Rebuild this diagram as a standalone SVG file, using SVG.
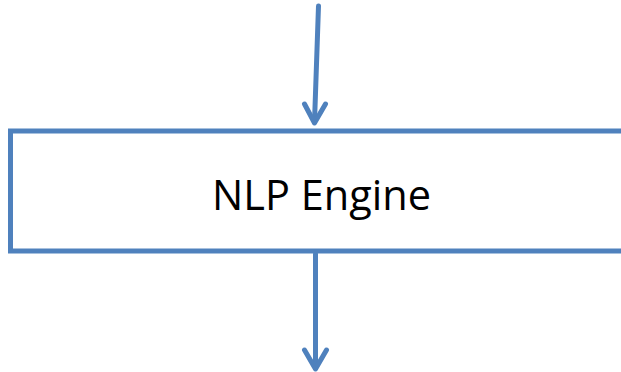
<svg xmlns="http://www.w3.org/2000/svg" width="621" height="372" viewBox="0 0 621 372">
<style>
.ln{fill:none;stroke:#4F81BD;stroke-width:5;stroke-linecap:round;stroke-linejoin:round}
.box{fill:#FFFFFF;stroke:#4F81BD;stroke-width:5}
.lbl{font-family:"Open Sans","Liberation Sans",sans-serif;font-size:41.5px;fill:#000000}
</style>
<rect width="621" height="372" fill="#FFFFFF"/>
<g id="connectors">
<path class="ln" d="M318.5,6 L314.5,122"/>
<path class="ln" d="M304.5,104 L314.5,123 L325.5,104"/>
<path class="ln" d="M315.5,254 L315.5,368"/>
<path class="ln" d="M304.5,350 L315.5,369 L326.5,350"/>
</g>
<g id="nlp-engine">
<rect class="box" x="10.5" y="131" width="640" height="120"/>
<text class="lbl" x="321.5" y="210" text-anchor="middle">NLP Engine</text>
</g>
</svg>
